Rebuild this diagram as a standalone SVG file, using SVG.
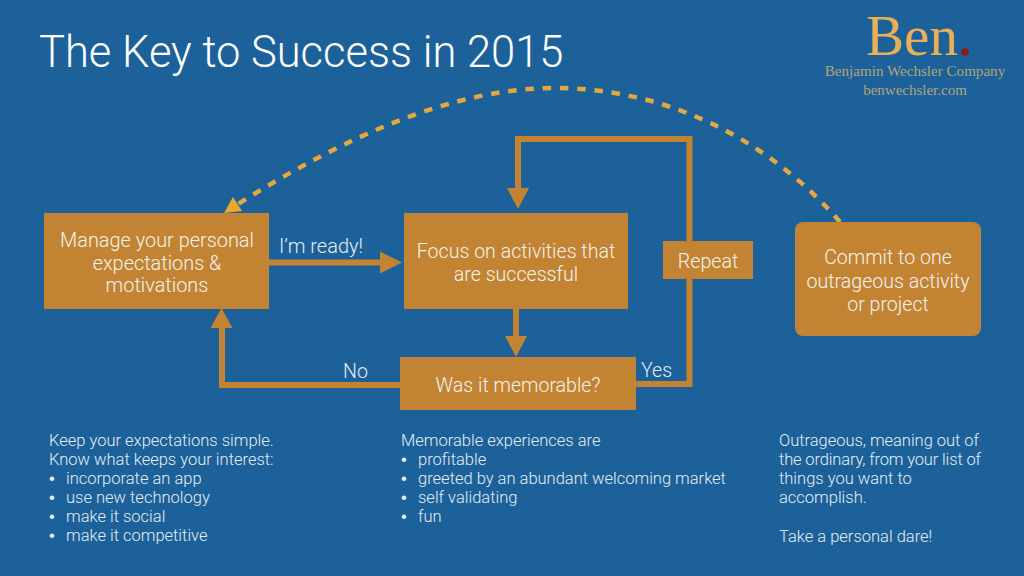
<svg xmlns="http://www.w3.org/2000/svg" width="1024" height="576" viewBox="0 0 1024 576">
<style>
text{font-family:Roboto,"Liberation Sans",sans-serif;font-weight:300;fill:#f2f2ee}
.box{fill:#c28432}
.lbl{font-size:19.6px;text-anchor:middle}
.cap{font-size:19.6px;fill:#e4edf4}
.body{font-size:16.5px;fill:#e6edf3}
.dot{font-family:"Liberation Sans",sans-serif;font-weight:400}
.flow{fill:none;stroke:#c28432;stroke-width:6}
.head{fill:#c28432}
.serif{font-family:"Liberation Serif",serif;font-weight:400;text-anchor:middle;fill:#b3a57a}
</style>
<rect width="1024" height="576" fill="#1c6199"/>
<text x="39" y="67" font-size="43.5" style="fill:#fff">The Key to Success in 2015</text>

<g id="logo">
<text class="serif" x="912" y="55" font-size="57" style="fill:#e8ae58">Ben</text>
<circle cx="965" cy="52" r="3.8" fill="#8a2010"/>
<text class="serif" x="915" y="76" font-size="15.1">Benjamin Wechsler Company</text>
<text class="serif" x="915" y="95" font-size="15">benwechsler.com</text>
</g>

<g id="connectors">
<path d="M840 222C760 130 655 88 555 88C450 88 340 140 238 204" fill="none" stroke="#e3a83f" stroke-width="4.500" stroke-dasharray="8.500 8.800"/>
<polygon points="224,213 233,197 242,211" fill="#e9a830"/>
<path class="flow" d="M269 262.500H382"/>
<polygon class="head" points="402,262.500 380,251.500 380,273.500"/>
<path class="flow" d="M400 385H222V326"/>
<polygon class="head" points="221.500,308 210.500,328 232.500,328"/>
<path class="flow" d="M636 384H689.500V139H518V190"/>
<polygon class="head" points="518,209 507,188 529,188"/>
<path class="flow" d="M516 309V338"/>
<polygon class="head" points="516,357 505,336 527,336"/>
</g>

<g id="node-manage">
<rect class="box" x="44" y="213" width="225" height="96"/>
<text class="lbl" x="157" y="247" style="font-size:19.900px">Manage your personal</text>
<text class="lbl" x="157" y="270" style="font-size:19.900px">expectations &amp;</text>
<text class="lbl" x="157" y="292" style="font-size:19.900px">motivations</text>
</g>
<g id="node-focus">
<rect class="box" x="404" y="213" width="224" height="96"/>
<text class="lbl" x="516" y="258">Focus on activities that</text>
<text class="lbl" x="516" y="281">are successful</text>
</g>
<g id="node-memorable">
<rect class="box" x="400" y="357" width="236" height="53"/>
<text class="lbl" x="518" y="392">Was it memorable?</text>
</g>
<g id="node-repeat">
<rect class="box" x="663" y="241" width="90" height="38"/>
<text class="lbl" x="708" y="268">Repeat</text>
</g>
<g id="node-commit">
<rect class="box" x="795" y="222" width="186" height="114" rx="8"/>
<text class="lbl" x="888" y="264">Commit to one</text>
<text class="lbl" x="888" y="288">outrageous activity</text>
<text class="lbl" x="888" y="311">or project</text>
</g>

<g id="connector-labels">
<text class="cap" x="279" y="253" style="font-size:20px">I’m ready!</text>
<text class="cap" x="343" y="378">No</text>
<text class="cap" x="641" y="377">Yes</text>
</g>

<g id="notes">
<text class="body"><tspan x="49" y="446">Keep your expectations simple.</tspan><tspan x="49" y="465">Know what keeps your interest:</tspan><tspan class="dot" x="49" y="484">•</tspan><tspan x="66" y="484">incorporate an app</tspan><tspan class="dot" x="49" y="503">•</tspan><tspan x="66" y="503">use new technology</tspan><tspan class="dot" x="49" y="522">•</tspan><tspan x="66" y="522">make it social</tspan><tspan class="dot" x="49" y="541">•</tspan><tspan x="66" y="541">make it competitive</tspan></text>
<text class="body"><tspan x="401" y="446">Memorable experiences are</tspan><tspan class="dot" x="401" y="465">•</tspan><tspan x="418" y="465">profitable</tspan><tspan class="dot" x="401" y="484">•</tspan><tspan x="418" y="484">greeted by an abundant welcoming market</tspan><tspan class="dot" x="401" y="503">•</tspan><tspan x="418" y="503">self validating</tspan><tspan class="dot" x="401" y="522">•</tspan><tspan x="418" y="522">fun</tspan></text>
<text class="body"><tspan x="779" y="446" textLength="200">Outrageous, meaning out of</tspan><tspan x="779" y="465" textLength="202">the ordinary, from your list of</tspan><tspan x="779" y="484">things you want to</tspan><tspan x="779" y="503">accomplish.</tspan><tspan x="779" y="542">Take a personal dare!</tspan></text>
</g>
</svg>
